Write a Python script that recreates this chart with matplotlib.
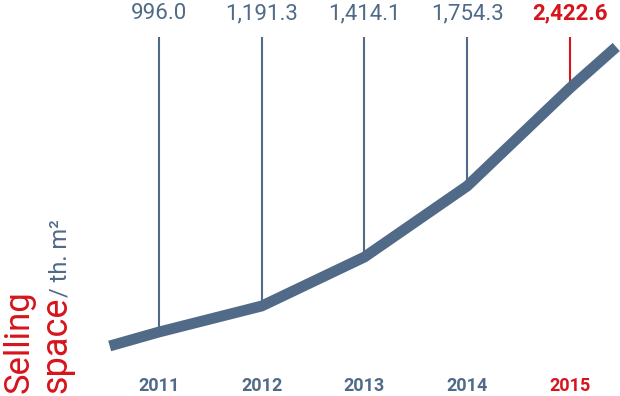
import matplotlib
matplotlib.use("Agg")
import matplotlib.pyplot as plt

# data
years = [2011, 2012, 2013, 2014, 2015]
values = ["996.0", "1,191.3", "1,414.1", "1,754.3", "2,422.6"]
# stylised curve height (picture units, not to scale with the values)
curve = [64, 90, 139, 210, 308]
lead_in = (2010.52, 50)
lead_out = (2015.45, 349)

GREY = "#506a87"
RED = "#d7141c"
FONT = ["Roboto", "DejaVu Sans"]
plt.rcParams["font.family"] = FONT

fig = plt.figure(figsize=(6.2, 3.96), dpi=100)
ax = fig.add_axes([0, 0, 1, 1])
ax.set_xlim(2009.4526, 2015.4866)
ax.set_ylim(0, 396)
ax.axis("off")

top = 359
for i, (yr, val, lvl) in enumerate(zip(years, values, curve)):
    last = i == len(years) - 1
    col = RED if last else GREY
    ax.plot([yr, yr], [top, lvl], color=col, lw=1.5, solid_capstyle="butt", zorder=1)
    ax.text(yr, 377, val, ha="center", va="baseline", fontsize=16,
            color=col, fontweight="bold" if last else "normal")
    ax.text(yr, 1, str(yr), ha="center", va="bottom", fontsize=13,
            color=col, fontweight="bold")

xs = [lead_in[0]] + years + [lead_out[0]]
ys = [lead_in[1]] + curve + [lead_out[1]]
ax.plot(xs, ys, color=GREY, lw=7.8, solid_capstyle="butt",
        solid_joinstyle="miter", zorder=3)

# rotated axis caption
fig.text(29 / 620, 1 - 393 / 396, "Selling", rotation=90, rotation_mode="anchor",
         ha="left", va="baseline", fontsize=25, color=RED)
fig.text(66 / 620, 1 - 393 / 396, "space", rotation=90, rotation_mode="anchor",
         ha="left", va="baseline", fontsize=26, color=RED)
fig.text(66 / 620, 1 - 297 / 396, "/ th. m²", rotation=90, rotation_mode="anchor",
         ha="left", va="baseline", fontsize=17, color=GREY)

fig.savefig("out.png", dpi=100)
